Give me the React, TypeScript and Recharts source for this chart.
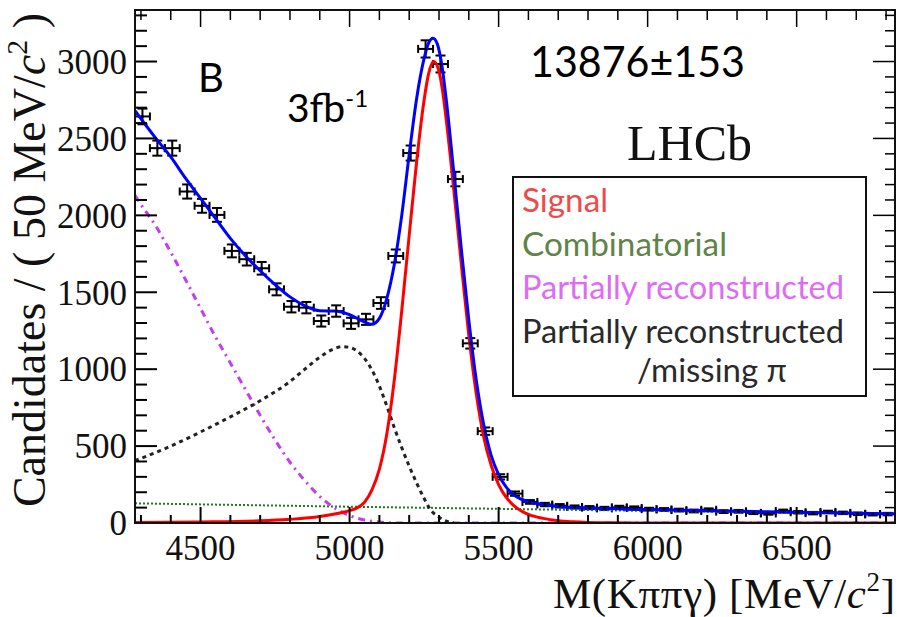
import React from 'react';
import { ComposedChart, Line, Scatter, ErrorBar, XAxis, YAxis } from 'recharts';

const W = 897;
const H = 617;
const PLOT = { left: 135, right: 895, top: 10, bottom: 523 };

const SERIF = "'Liberation Serif', 'Times New Roman', serif";
const SANS = "Lato, 'Open Sans', sans-serif";

// 50 MeV bins: centres, candidates, stat. errors
const binCentres = [
  4305, 4355, 4405, 4455, 4505, 4555, 4605, 4655, 4705, 4755,
  4805, 4855, 4905, 4955, 5005, 5055, 5105, 5155, 5205, 5255,
  5305, 5355, 5405, 5455, 5505, 5555, 5605, 5655, 5705, 5755,
  5805, 5855, 5905, 5955, 6005, 6055, 6105, 6155, 6205, 6255,
  6305, 6355, 6405, 6455, 6505, 6555, 6605, 6655, 6705, 6755, 6805,
];
const counts = [
  2643, 2437, 2437, 2155, 2062, 2003, 1769, 1715, 1656, 1519,
  1406, 1400, 1313, 1378, 1298, 1324, 1430, 1736, 2405, 3082,
  2984, 2236, 1168, 597, 300, 191, 137, 120, 112, 104,
  100, 95, 102, 98, 90, 88, 84, 78, 86, 74,
  76, 66, 62, 78, 70, 64, 72, 66, 60, 56, 58,
];
const countErrors = [
  51, 49, 49, 46, 45, 45, 42, 41, 41, 39,
  37, 37, 36, 37, 36, 36, 38, 42, 49, 56,
  55, 47, 34, 24, 17, 14, 12, 11, 11, 10,
  10, 10, 10, 10, 9, 9, 9, 9, 9, 9,
  9, 8, 8, 9, 8, 8, 8, 8, 8, 7, 8,
];
const binHalfWidth = 25;

// fit components, [mass, candidates]
const totalFit: [number, number][] = [
  [4280, 2680], [4350, 2500], [4400, 2380], [4450, 2240], [4500, 2110],
  [4550, 1980], [4600, 1850], [4650, 1738], [4700, 1640], [4750, 1550],
  [4800, 1470], [4850, 1412], [4900, 1380], [4950, 1378], [5000, 1354],
  [5040, 1316], [5075, 1292], [5100, 1330], [5125, 1460], [5150, 1680],
  [5175, 2000], [5200, 2395], [5225, 2760], [5250, 3020], [5265, 3120],
  [5280, 3152], [5295, 3110], [5310, 2970], [5325, 2740], [5350, 2270],
  [5375, 1780], [5400, 1320], [5425, 930], [5450, 640], [5475, 440],
  [5500, 315], [5525, 235], [5550, 185], [5575, 155], [5600, 138],
  [5650, 120], [5700, 108], [5800, 97], [6000, 88], [6200, 80],
  [6400, 73], [6600, 66], [6830, 60],
];
const signalFit: [number, number][] = [
  [4280, 4], [4500, 7], [4700, 14], [4800, 24], [4900, 42], [4950, 58],
  [5000, 80], [5025, 98], [5050, 135], [5075, 215], [5100, 350], [5125, 580],
  [5150, 930], [5175, 1380], [5200, 1870], [5225, 2350], [5250, 2750],
  [5265, 2920], [5282, 3000], [5298, 2950], [5312, 2810], [5325, 2610],
  [5350, 2160], [5375, 1680], [5400, 1220], [5425, 840], [5450, 560],
  [5475, 375], [5500, 250], [5525, 168], [5550, 115], [5575, 80],
  [5600, 56], [5650, 30], [5700, 15], [5750, 8], [5800, 4], [5900, 1],
  [6000, 0], [6830, 0],
];
const combinatorialFit: [number, number][] = [
  [4280, 128], [4600, 118], [5000, 106], [5400, 95], [5800, 84],
  [6200, 74], [6600, 65], [6830, 60],
];
const partRecoFit: [number, number][] = [
  [4280, 2130], [4300, 2070], [4350, 1930], [4400, 1760], [4450, 1580],
  [4500, 1395], [4550, 1210], [4600, 1040], [4650, 870], [4700, 700],
  [4750, 540], [4800, 395], [4850, 275], [4900, 172], [4950, 98],
  [5000, 48], [5050, 20], [5100, 6], [5150, 0], [6830, 0],
];
const missingPiFit: [number, number][] = [
  [4280, 405], [4400, 500], [4500, 592], [4600, 690], [4700, 795],
  [4800, 920], [4850, 1000], [4900, 1078], [4940, 1126], [4975, 1146],
  [5000, 1142], [5025, 1118], [5050, 1070], [5075, 995], [5100, 890],
  [5125, 760], [5150, 620], [5175, 490], [5200, 370], [5225, 260],
  [5250, 160], [5270, 90], [5300, 38], [5330, 8], [5350, 0],
];

const xTicks = [
  4300, 4400, 4500, 4600, 4700, 4800, 4900, 5000, 5100, 5200,
  5300, 5400, 5500, 5600, 5700, 5800, 5900, 6000, 6100, 6200,
  6300, 6400, 6500, 6600, 6700, 6800,
];
const xLabelTicks = [4500, 5000, 5500, 6000, 6500];
const yTicks = [
  0, 100, 200, 300, 400, 500, 600, 700, 800, 900, 1000, 1100,
  1200, 1300, 1400, 1500, 1600, 1700, 1800, 1900, 2000, 2100,
  2200, 2300, 2400, 2500, 2600, 2700, 2800, 2900, 3000, 3100,
  3200, 3300,
];
const yLabelTicks = [0, 500, 1000, 1500, 2000, 2500, 3000];

const legendItems = [
  { label: 'Signal', color: '#ef4a4a', width: 86 },
  { label: 'Combinatorial', color: '#5f8447', width: 205 },
  { label: 'Partially reconstructed', color: '#dd6cf2', width: 322 },
  { label: 'Partially reconstructed', color: '#2a2a2a', width: 322 },
];

const toRows = (pts: [number, number][]) => pts.map(([m, v]) => ({ m, v }));

const dataRows = binCentres.map((m, i) => ({
  m,
  v: counts[i],
  ey: countErrors[i],
  ex: binHalfWidth,
}));

// ROOT-style inward ticks on both bottom and top edges
const XTick = (props: any) => {
  const { x, payload } = props;
  const major = xLabelTicks.includes(payload.value);
  return (
    <g>
      <line x1={x} x2={x} y1={PLOT.bottom} y2={PLOT.bottom - (major ? 16 : 8)} stroke="#000" strokeWidth={2} />
      <line x1={x} x2={x} y1={PLOT.top} y2={PLOT.top + (major ? 17 : 10)} stroke="#000" strokeWidth={1.5} />
      {major && (
        <text x={x} y={560} textAnchor="middle" fontFamily={SERIF} fontSize={35} fill="#111">
          {String(payload.value)}
        </text>
      )}
    </g>
  );
};

const YTick = (props: any) => {
  const { y, payload } = props;
  const major = yLabelTicks.includes(payload.value);
  return (
    <g>
      <line x1={PLOT.left} x2={PLOT.left + (major ? 22 : 12)} y1={y} y2={y} stroke="#000" strokeWidth={2} />
      <line x1={PLOT.right} x2={PLOT.right - (major ? 22 : 10)} y1={y} y2={y} stroke="#000" strokeWidth={1.5} />
      {major && (
        <text x={127} y={y} dy="0.35em" textAnchor="end" fontFamily={SERIF} fontSize={35} fill="#111">
          {String(payload.value)}
        </text>
      )}
    </g>
  );
};

const DataPoint = (props: any) => <circle cx={props.cx} cy={props.cy} r={1.5} fill="#000" />;

export default function App() {
  return (
    <div style={{ position: 'absolute', left: 0, top: 0, width: W, height: H, background: '#fff' }}>
      <ComposedChart
        width={W}
        height={H}
        margin={{ top: PLOT.top, right: W - PLOT.right, bottom: 0, left: 0 }}
      >
        <XAxis
          type="number"
          dataKey="m"
          domain={[4280, 6830]}
          allowDataOverflow
          ticks={xTicks}
          interval={0}
          tick={XTick}
          tickLine={false}
          axisLine={false}
          height={H - PLOT.bottom}
        />
        <YAxis
          type="number"
          domain={[0, 3335]}
          allowDataOverflow
          ticks={yTicks}
          interval={0}
          tick={YTick}
          tickLine={false}
          axisLine={false}
          width={PLOT.left}
        />
        <Scatter data={dataRows} dataKey="v" shape={DataPoint} isAnimationActive={false}>
          <ErrorBar dataKey="ey" direction="y" width={5} stroke="#000" strokeWidth={2} />
          <ErrorBar dataKey="ex" direction="x" width={4} stroke="#000" strokeWidth={2} />
        </Scatter>
        <Line data={toRows(combinatorialFit)} dataKey="v" type="monotone" stroke="#1f7a1f" strokeWidth={2} strokeDasharray="2 2" dot={false} activeDot={false} isAnimationActive={false} />
        <Line data={toRows(partRecoFit)} dataKey="v" type="monotone" stroke="#c43cf0" strokeWidth={3} strokeDasharray="7 5 2 5" dot={false} activeDot={false} isAnimationActive={false} />
        <Line data={toRows(missingPiFit)} dataKey="v" type="monotone" stroke="#222" strokeWidth={3} strokeDasharray="4 4" dot={false} activeDot={false} isAnimationActive={false} />
        <Line data={toRows(signalFit)} dataKey="v" type="monotone" stroke="#ff0000" strokeWidth={3} dot={false} activeDot={false} isAnimationActive={false} />
        <Line data={toRows(totalFit)} dataKey="v" type="monotone" stroke="#0000ff" strokeWidth={3} dot={false} activeDot={false} isAnimationActive={false} />
      </ComposedChart>

      <svg width={W} height={H} style={{ position: 'absolute', left: 0, top: 0, pointerEvents: 'none' }}>
        <rect x={PLOT.left} y={PLOT.top} width={PLOT.right - PLOT.left} height={PLOT.bottom - PLOT.top} fill="none" stroke="#111" strokeWidth={2} />

        <text transform="translate(45,13) rotate(-90)" textAnchor="end" fontFamily={SERIF} fontSize={46} fill="#111">
          Candidates / ( 50 MeV/<tspan fontStyle="italic">c</tspan>
          <tspan fontSize={30} dy={-18}>2</tspan>
          <tspan dy={18}> )</tspan>
        </text>
        <text x={895} y={608} textAnchor="end" fontFamily={SERIF} fontSize={43} fill="#111" textLength={342}>
          M(Kππγ) [MeV/<tspan fontStyle="italic">c</tspan>
          <tspan fontSize={27} dy={-17}>2</tspan>
          <tspan dy={17}>]</tspan>
        </text>

        <text x={198} y={92} fontFamily={SANS} fontSize={40} fill="#000">B</text>
        <text x={287} y={122} fontFamily={SANS} fontSize={39} fill="#000">
          3fb<tspan fontSize={24} dy={-15}>-1</tspan>
        </text>
        <text x={530} y={77} fontFamily={SANS} fontSize={43} fill="#000" textLength={215} lengthAdjust="spacingAndGlyphs">
          13876±153
        </text>
        <text x={627} y={160} fontFamily={SERIF} fontSize={50} fill="#111">LHCb</text>

        <rect x={513} y={177} width={353} height={219} fill="#fff" stroke="#111" strokeWidth={2} />
        {legendItems.map((item, i) => (
          <text
            key={i}
            x={522}
            y={212 + i * 43.7}
            fontFamily={SANS}
            fontSize={33}
            fill={item.color}
            textLength={item.width}
            lengthAdjust="spacingAndGlyphs"
          >
            {item.label}
          </text>
        ))}
        <text x={637} y={382} fontFamily={SANS} fontSize={33} fill="#2a2a2a">/missing π</text>
      </svg>
    </div>
  );
}
